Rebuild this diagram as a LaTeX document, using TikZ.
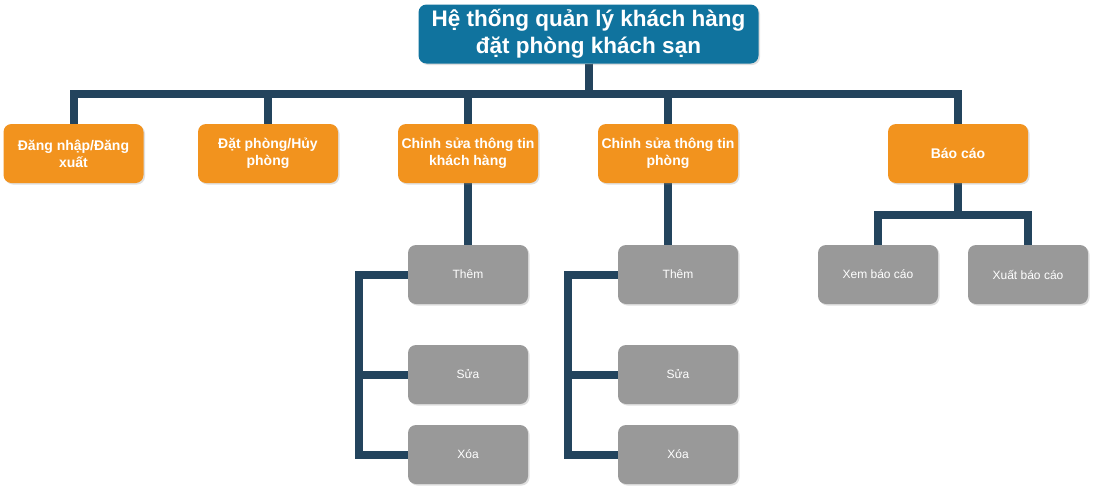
\documentclass[tikz,border=0pt]{standalone}
\usepackage{fontspec}
\setmainfont{Liberation Sans}
\usetikzlibrary{shadows,backgrounds}
\definecolor{topblue}{HTML}{10739E}
\definecolor{orng}{HTML}{F2931E}
\definecolor{gry}{HTML}{999999}
\definecolor{ln}{HTML}{23445D}
\begin{document}
\begin{tikzpicture}[x=1pt,y=-1pt,
 box/.style={rounded corners=8pt, inner sep=0pt, align=center, text=white,
   drop shadow={opacity=0.25,shadow xshift=1.5pt,shadow yshift=-1.5pt}},
 topbox/.style={box, fill=topblue, minimum width=340pt, minimum height=59pt,
   font=\bfseries\fontsize{22.5}{27}\selectfont},
 obox/.style={box, fill=orng, minimum width=140pt, minimum height=59pt,
   font=\bfseries\fontsize{14}{17}\selectfont},
 gbox/.style={box, fill=gry, minimum width=120pt, minimum height=59pt,
   font=\fontsize{12}{14}\selectfont},
 conn/.style={draw=ln, line width=8pt}]
\useasboundingbox (0,0) rectangle (1096,493);

\node[topbox] (top) at (588.5,34) {Hệ thống quản lý khách hàng\\đặt phòng khách sạn};

\node[obox] (o1) at (73.5,153.5) {Đăng nhập/Đăng\\xuất};
\node[obox] (o2) at (268,153.5) {Đặt phòng/Hủy\\phòng};
\node[obox] (o3) at (468,153.5) {Chỉnh sửa thông tin\\khách hàng};
\node[obox] (o4) at (668,153.5) {Chỉnh sửa thông tin\\phòng};
\node[obox] (o5) at (958,153.5) {Báo cáo};

\node[gbox] (g31) at (468,274.5) {Thêm};
\node[gbox] (g32) at (468,374.5) {Sửa};
\node[gbox] (g33) at (468,454.5) {Xóa};
\node[gbox] (g41) at (678,274.5) {Thêm};
\node[gbox] (g42) at (678,374.5) {Sửa};
\node[gbox] (g43) at (678,454.5) {Xóa};
\node[gbox] (g51) at (878,274.5) {Xem báo cáo};
\node[gbox] (g52) at (1028,274.5) {Xuất báo cáo};

\coordinate (bus) at (588.5,94);
\coordinate (bj) at (958,215);
\coordinate (b3) at (359,274.5);
\coordinate (b4) at (568,274.5);

\begin{scope}[on background layer]
\fill[white] (0,0) rectangle (1096,493);
\foreach \c in {o1,o2,o3,o4,o5}
  \draw[conn] (top.south) -- (bus) -| (\c.north);
\draw[conn] (o3.south) -- (g31.north);
\draw[conn] (o4.south) -- (o4.south |- g41.north);
\draw[conn] (g31.west) -- (b3) |- (g33.west);
\draw[conn] (b3) |- (g32.west);
\draw[conn] (g41.west) -- (b4) |- (g43.west);
\draw[conn] (b4) |- (g42.west);
\draw[conn] (o5.south) -- (bj) -| (g51.north);
\draw[conn] (bj) -| (g52.north);
\end{scope}
\end{tikzpicture}
\end{document}
